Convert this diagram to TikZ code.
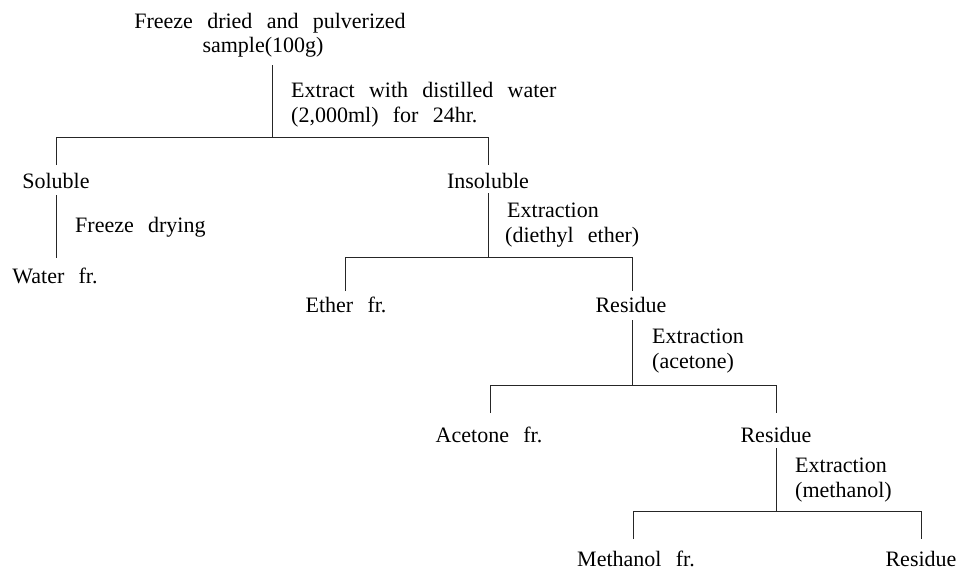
\documentclass[tikz,border=0pt]{standalone}
\usepackage{fontspec}
\setmainfont[WordSpace=2.6]{Liberation Serif}
\begin{document}
\begin{tikzpicture}[x=1pt,y=-1pt,
  lbl/.style={inner sep=0pt, anchor=base, font=\fontsize{22}{26}\selectfont},
  side/.style={lbl, anchor=base west},
  ln/.style={line width=1pt, draw=black!85}]
\useasboundingbox (0,0) rectangle (962,570);
% texts
\node[lbl] (freeze) at (270,28) {Freeze dried and pulverized};
\node[lbl] (sample) at (263,52) {sample(100g)};
\node[side] (ex0a) at (291,97) {Extract with distilled water};
\node[side] (ex0b) at (291,122) {(2,000ml) for 24hr.};
\node[lbl] (sol) at (56,188) {Soluble};
\node[lbl] (insol) at (488,188) {Insoluble};
\node[side] (fd) at (75,232) {Freeze drying};
\node[lbl] (water) at (55,283) {Water fr.};
\node[side] (ex1a) at (507,217) {Extraction};
\node[side] (ex1b) at (505,242) {(diethyl ether)};
\node[lbl] (ether) at (346,312) {Ether fr.};
\node[lbl] (res1) at (631,312) {Residue};
\node[side] (ex2a) at (652,343) {Extraction};
\node[side] (ex2b) at (652,368) {(acetone)};
\node[lbl] (acet) at (489,442) {Acetone fr.};
\node[lbl] (res2) at (776,442) {Residue};
\node[side] (ex3a) at (795,472) {Extraction};
\node[side] (ex3b) at (795,497) {(methanol)};
\node[lbl] (meth) at (636,566) {Methanol fr.};
\node[lbl] (res3) at (921,566) {Residue};
% junction coordinates
\coordinate (t0) at (272,65);  \coordinate (j0) at (272,137);
\coordinate (l0) at (56,137);  \coordinate (l0e) at (56,165);
\coordinate (r0) at (488,137); \coordinate (r0e) at (488,165);
\coordinate (st) at (56,195);  \coordinate (se) at (56,258);
\coordinate (t1) at (488,193); \coordinate (j1) at (488,257);
\coordinate (l1) at (345,257); \coordinate (l1e) at (345,291);
\coordinate (r1) at (632,257); \coordinate (r1e) at (632,291);
\coordinate (t2) at (632,320); \coordinate (j2) at (632,385);
\coordinate (l2) at (490,385); \coordinate (l2e) at (490,413);
\coordinate (r2) at (776,385); \coordinate (r2e) at (776,413);
\coordinate (t3) at (776,448); \coordinate (j3) at (776,511);
\coordinate (l3) at (633,511); \coordinate (l3e) at (633,539);
\coordinate (r3) at (921,511); \coordinate (r3e) at (921,539);
% connectors
\draw[ln] (t0) -- (j0);
\draw[ln] (l0e) -- (l0) -- (r0) -- (r0e);
\draw[ln] (st) -- (se);
\draw[ln] (t1) -- (j1);
\draw[ln] (l1e) -- (l1) -- (r1) -- (r1e);
\draw[ln] (t2) -- (j2);
\draw[ln] (l2e) -- (l2) -- (r2) -- (r2e);
\draw[ln] (t3) -- (j3);
\draw[ln] (l3e) -- (l3) -- (r3) -- (r3e);
\end{tikzpicture}
\end{document}
